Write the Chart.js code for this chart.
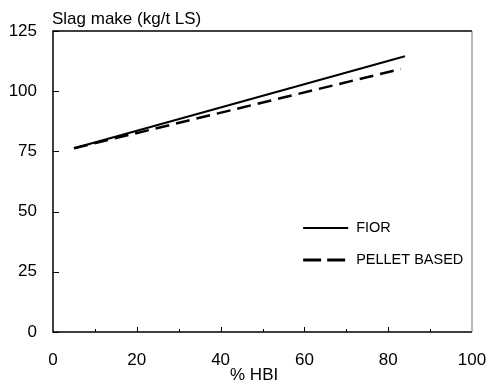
<!DOCTYPE html>
<html>
<head>
<meta charset="utf-8">
<script src="https://cdn.jsdelivr.net/npm/chart.js@4"></script>
<style>
  html, body { margin: 0; padding: 0; background: #fff; }
  #wrap { width: 487px; height: 383px; }
</style>
</head>
<body>
<div id="wrap"><canvas id="slagChart" width="487" height="383"></canvas></div>
<script>
// data
const fiorHbi = [5, 84];
const fiorSlag = [76.3, 114.5];
const pelletHbi = [5, 83];
const pelletSlag = [76.3, 109.2];
const seriesNames = ['FIOR', 'PELLET BASED'];
const xTicks = [0, 20, 40, 60, 80, 100];
const yTicks = [0, 25, 50, 75, 100, 125];

const FAMILY = '"Liberation Sans", Arial, sans-serif';

function toPoints(xs, ys) {
    return xs.map((x, i) => ({ x: x, y: ys[i] }));
}

// frame, inward ticks, title, axis label and legend
const decorPlugin = {
    id: 'decor',
    afterDraw(chart) {
        const ctx = chart.ctx;
        const area = chart.chartArea;
        const xs = chart.scales.x;
        const ys = chart.scales.y;
        ctx.save();

        // box
        ctx.lineWidth = 1.5;
        ctx.strokeStyle = '#000';
        ctx.beginPath();
        ctx.moveTo(area.right, area.top);
        ctx.lineTo(area.left, area.top);
        ctx.lineTo(area.left, area.bottom);
        ctx.lineTo(area.right, area.bottom);
        ctx.stroke();
        ctx.strokeStyle = '#777';
        ctx.lineWidth = 1;
        ctx.beginPath();
        ctx.moveTo(area.right, area.top);
        ctx.lineTo(area.right, area.bottom);
        ctx.stroke();

        // y ticks pointing into the plot
        ctx.strokeStyle = '#000';
        ctx.lineWidth = 1;
        yTicks.forEach(v => {
            const py = Math.round(ys.getPixelForValue(v)) + 0.5;
            ctx.beginPath();
            ctx.moveTo(area.left, py);
            ctx.lineTo(area.left + 6, py);
            ctx.stroke();
        });
        // x ticks, major every 20 and minor every 10
        for (let v = 10; v < 100; v += 10) {
            const px = Math.round(xs.getPixelForValue(v)) + 0.5;
            const len = v % 20 === 0 ? 5 : 3;
            ctx.beginPath();
            ctx.moveTo(px, area.bottom);
            ctx.lineTo(px, area.bottom - len);
            ctx.stroke();
        }

        ctx.fillStyle = '#000';
        ctx.textBaseline = 'middle';

        // title above the plot
        ctx.font = '17px ' + FAMILY;
        ctx.textAlign = 'left';
        ctx.fillText('Slag make (kg/t LS)', area.left - 1, 19);

        // x axis label
        ctx.textAlign = 'center';
        ctx.fillText('% HBI', xs.getPixelForValue(48), 375);

        // legend
        ctx.font = '14.5px ' + FAMILY;
        const legendX = xs.getPixelForValue(59.7);
        const legendRows = [43.1, 29.9];
        const legendDash = [null, [18, 6]];
        chart.data.datasets.forEach((ds, i) => {
            const ly = Math.round(ys.getPixelForValue(legendRows[i]));
            ctx.strokeStyle = '#000';
            ctx.lineWidth = i === 0 ? 2 : 3;
            ctx.setLineDash(legendDash[i] || []);
            ctx.beginPath();
            ctx.moveTo(legendX, ly);
            ctx.lineTo(legendX + 45, ly);
            ctx.stroke();
            ctx.setLineDash([]);
            ctx.textAlign = 'left';
            ctx.fillText(seriesNames[i], legendX + 53, ly);
        });

        ctx.restore();
    }
};

new Chart(document.getElementById('slagChart').getContext('2d'), {
    type: 'line',
    data: {
        datasets: [{
            label: seriesNames[0],
            data: toPoints(fiorHbi, fiorSlag),
            borderColor: '#000',
            borderWidth: 2,
            pointRadius: 0,
            tension: 0
        }, {
            label: seriesNames[1],
            data: toPoints(pelletHbi, pelletSlag),
            borderColor: '#000',
            borderWidth: 2.5,
            borderDash: [14, 7],
            pointRadius: 0,
            tension: 0
        }]
    },
    options: {
        responsive: false,
        animation: false,
        layout: { padding: { top: 31, right: 15, left: 0, bottom: 0 } },
        plugins: {
            legend: { display: false },
            tooltip: { enabled: false }
        },
        scales: {
            x: {
                type: 'linear',
                min: 0,
                max: 100,
                afterBuildTicks: scale => { scale.ticks = xTicks.map(v => ({ value: v })); },
                afterFit: scale => {
                    scale.height = 51;
                    scale.paddingLeft = 0;
                    scale.paddingRight = 0;
                },
                grid: { display: false, drawTicks: false },
                border: { display: false },
                ticks: { color: '#000', font: { family: FAMILY, size: 17 }, padding: 18, maxRotation: 0 }
            },
            y: {
                min: 0,
                max: 125,
                afterBuildTicks: scale => { scale.ticks = yTicks.map(v => ({ value: v })); },
                afterFit: scale => {
                    scale.width = 53;
                    scale.paddingTop = 0;
                    scale.paddingBottom = 0;
                },
                grid: { display: false, drawTicks: false },
                border: { display: false },
                ticks: { color: '#000', font: { family: FAMILY, size: 17 }, padding: 16 }
            }
        }
    },
    plugins: [decorPlugin]
});
</script>
</body>
</html>
